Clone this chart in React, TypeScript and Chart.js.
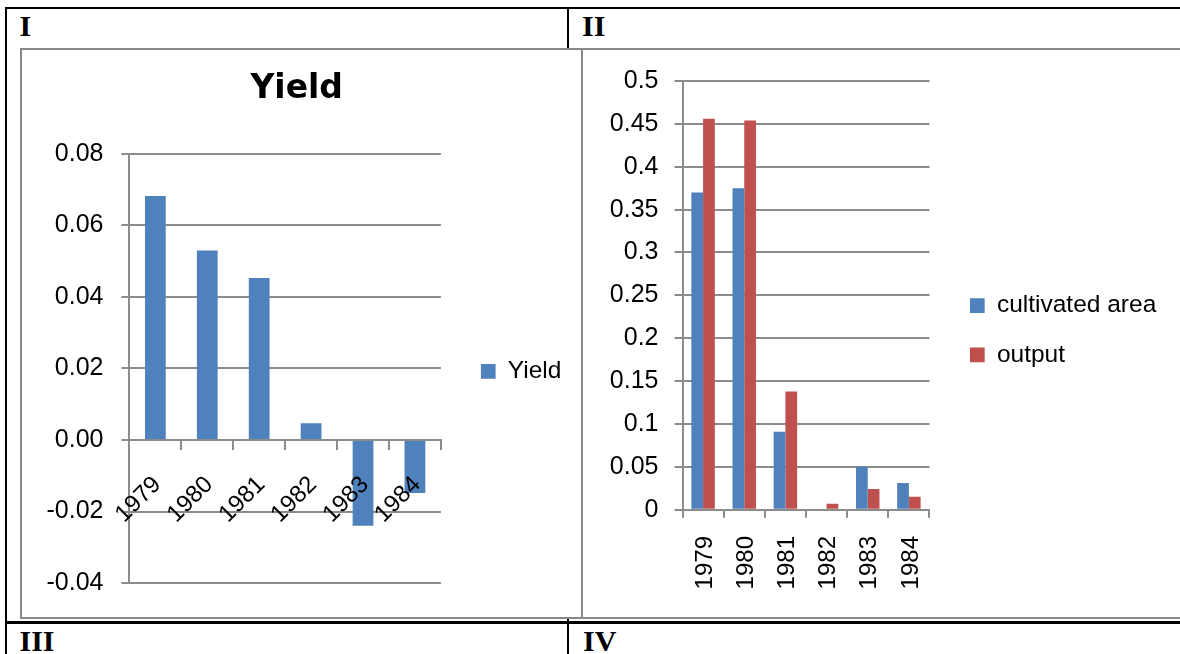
import React, { useEffect, useRef } from 'react';
import { Chart, registerables } from 'chart.js';

Chart.register(...registerables);

// ---- data ----
const years = ['1979', '1980', '1981', '1982', '1983', '1984'];
const yieldValues = [0.0682, 0.053, 0.0453, 0.0047, -0.024, -0.0148];
const cultivatedArea = [0.37, 0.375, 0.091, 0, 0.05, 0.031];
const outputValues = [0.456, 0.454, 0.138, 0.007, 0.024, 0.015];
const yieldTickValues = [-0.04, -0.02, 0, 0.02, 0.04, 0.06, 0.08];
const yieldTickLabels = ['-0.04', '-0.02', '0.00', '0.02', '0.04', '0.06', '0.08'];
const shareTickValues = [0, 0.05, 0.1, 0.15, 0.2, 0.25, 0.3, 0.35, 0.4, 0.45, 0.5];
const shareTickLabels = ['0', '0.05', '0.1', '0.15', '0.2', '0.25', '0.3', '0.35', '0.4', '0.45', '0.5'];
const yieldTitle = 'Yield';
const yieldSeriesName = 'Yield';
const seriesNames = ['cultivated area', 'output'];
const cellLabels = ['I', 'II', 'III', 'IV'];

// ---- styles ----
const BLUE = '#4F81BD';
const RED = '#C0504D';
const GRID = '#8c8c8c';
const FRAME = '#898989';
const SANS = "'Liberation Sans', Arial, sans-serif";
const SERIF = "'Liberation Serif', 'Times New Roman', serif";

Chart.defaults.font.family = SANS;
Chart.defaults.font.size = 24;
Chart.defaults.color = '#000';

function YieldChart() {
  const ref = useRef<HTMLCanvasElement | null>(null);
  useEffect(() => {
    if (!ref.current) return;
    const chart = new Chart(ref.current, {
      type: 'bar',
      data: {
        labels: years,
        datasets: [
          {
            label: yieldSeriesName,
            data: yieldValues,
            backgroundColor: BLUE,
            borderWidth: 0,
            categoryPercentage: 0.4,
            barPercentage: 1,
          },
        ],
      },
      options: {
        responsive: false,
        maintainAspectRatio: false,
        animation: false,
        layout: { padding: { top: 0, left: 0, right: 8.59, bottom: 27 } },
        plugins: {
          tooltip: { enabled: false },
          title: {
            display: true,
            text: yieldTitle,
            color: '#000',
            font: { size: 33, weight: 'bold', family: "'DejaVu Sans', sans-serif", lineHeight: 1.2 },
            padding: { top: 19.4, bottom: 44.8 },
          },
          legend: {
            position: 'right',
            align: 'start',
            maxWidth: 400,
            title: {
              display: true,
              text: '',
              font: { size: 10, lineHeight: 1 },
              padding: { top: 279.2, bottom: 0 },
            },
            labels: {
              boxWidth: 14.7,
              boxHeight: 14.7,
              padding: 20,
              font: { size: 24.5 },
              color: '#000',
            },
          },
        },
        scales: {
          x: {
            position: { y: 0 } as any,
            offset: true,
            grid: {
              display: true,
              offset: true,
              drawOnChartArea: false,
              drawTicks: true,
              tickLength: 9,
              color: GRID,
              lineWidth: 2,
            },
            border: { display: true, color: GRID, width: 2 },
            ticks: {
              z: 1,
              autoSkip: false,
              minRotation: 45,
              maxRotation: 45,
              padding: 21.6,
              labelOffset: 2,
              font: { size: 24 },
              color: '#000',
            },
          },
          y: {
            min: -0.04,
            max: 0.08,
            afterBuildTicks: (s: any) => {
              s.ticks = yieldTickValues.map((value) => ({ value }));
            },
            afterFit: (s: any) => {
              s.width = 107.4;
            },
            grid: { color: GRID, lineWidth: 2, drawTicks: true, tickLength: 8 },
            border: { display: true, color: GRID, width: 2 },
            ticks: {
              padding: 17.9,
              font: { size: 25 },
              color: '#000',
              callback: (_v: any, i: number) => yieldTickLabels[i],
            },
          },
          gap: {
            type: 'linear',
            position: 'right',
            grid: { display: false },
            ticks: { display: false },
            border: { display: false },
            afterFit: (s: any) => {
              s.width = 20;
            },
          },
        },
      } as any,
    });
    return () => chart.destroy();
  }, []);
  return (
    <canvas
      ref={ref}
      width={558}
      height={566}
      style={{ position: 'absolute', left: 22, top: 50, width: 558, height: 566 }}
    />
  );
}

function ShareChart() {
  const ref = useRef<HTMLCanvasElement | null>(null);
  useEffect(() => {
    if (!ref.current) return;
    const chart = new Chart(ref.current, {
      type: 'bar',
      data: {
        labels: years,
        datasets: [
          {
            label: seriesNames[0],
            data: cultivatedArea,
            backgroundColor: BLUE,
            borderWidth: 0,
            categoryPercentage: 0.57,
            barPercentage: 1,
          },
          {
            label: seriesNames[1],
            data: outputValues,
            backgroundColor: RED,
            borderWidth: 0,
            categoryPercentage: 0.57,
            barPercentage: 1,
          },
        ],
      },
      options: {
        responsive: false,
        maintainAspectRatio: false,
        animation: false,
        layout: { padding: { top: 21.7, left: 0, right: 13.73, bottom: 0 } },
        plugins: {
          tooltip: { enabled: false },
          title: { display: false },
          legend: {
            position: 'right',
            align: 'start',
            maxWidth: 400,
            title: {
              display: true,
              text: '',
              font: { size: 10, lineHeight: 1 },
              padding: { top: 186.7, bottom: 0 },
            },
            labels: {
              boxWidth: 14.7,
              boxHeight: 14.7,
              padding: 24.9,
              font: { size: 24.5 },
              color: '#000',
            },
          },
        },
        scales: {
          x: {
            offset: true,
            grid: {
              display: true,
              offset: true,
              drawOnChartArea: false,
              drawTicks: true,
              tickLength: 8,
              color: GRID,
              lineWidth: 2,
            },
            border: { display: true, color: GRID, width: 2 },
            afterFit: (s: any) => {
              s.height = 106.3;
            },
            ticks: {
              autoSkip: false,
              minRotation: 90,
              maxRotation: 90,
              padding: 18.3,
              labelOffset: 2,
              font: { size: 24 },
              color: '#000',
            },
          },
          y: {
            min: 0,
            max: 0.5,
            afterBuildTicks: (s: any) => {
              s.ticks = shareTickValues.map((value) => ({ value }));
            },
            afterFit: (s: any) => {
              s.width = 99.5;
            },
            grid: { color: GRID, lineWidth: 2, drawTicks: true, tickLength: 8 },
            border: { display: true, color: GRID, width: 2 },
            ticks: {
              padding: 16,
              font: { size: 25 },
              color: '#000',
              callback: (_v: any, i: number) => shareTickLabels[i],
            },
          },
          gap: {
            type: 'linear',
            position: 'right',
            grid: { display: false },
            ticks: { display: false },
            border: { display: false },
            afterFit: (s: any) => {
              s.width = 15.6;
            },
          },
        },
      } as any,
    });
    return () => chart.destroy();
  }, []);
  return (
    <canvas
      ref={ref}
      width={597}
      height={566}
      style={{ position: 'absolute', left: 583, top: 50, width: 597, height: 566 }}
    />
  );
}

const cellText: React.CSSProperties = {
  position: 'absolute',
  fontFamily: SERIF,
  fontWeight: 'bold',
  fontSize: 30,
  lineHeight: '30px',
  color: '#000',
  whiteSpace: 'nowrap',
};

export default function App() {
  return (
    <div
      style={{
        position: 'fixed',
        left: 0,
        top: 0,
        width: 1180,
        height: 654,
        overflow: 'hidden',
        background: '#fff',
      }}
    >
      {/* table rules */}
      <div style={{ position: 'absolute', left: 5, top: 7, width: 1175, height: 2, background: '#000' }} />
      <div style={{ position: 'absolute', left: 5, top: 7, width: 2, height: 647, background: '#000' }} />
      <div style={{ position: 'absolute', left: 567, top: 7, width: 2, height: 647, background: '#000' }} />
      <div style={{ position: 'absolute', left: 5, top: 621, width: 1175, height: 3, background: '#000' }} />

      <div style={{ ...cellText, left: 19.5, top: 11 }}>{cellLabels[0]}</div>
      <div style={{ ...cellText, left: 582, top: 11 }}>{cellLabels[1]}</div>
      <div style={{ ...cellText, left: 19.5, top: 625.6 }}>{cellLabels[2]}</div>
      <div style={{ ...cellText, left: 583, top: 625.6 }}>{cellLabels[3]}</div>

      {/* chart frames */}
      <div
        style={{
          position: 'absolute',
          left: 20,
          top: 48,
          width: 563,
          height: 571,
          border: `2px solid ${FRAME}`,
          boxSizing: 'border-box',
          background: '#fff',
        }}
      />
      <div
        style={{
          position: 'absolute',
          left: 581,
          top: 48,
          width: 620,
          height: 571,
          border: `2px solid ${FRAME}`,
          boxSizing: 'border-box',
          background: '#fff',
        }}
      />
      <YieldChart />
      <ShareChart />
    </div>
  );
}
